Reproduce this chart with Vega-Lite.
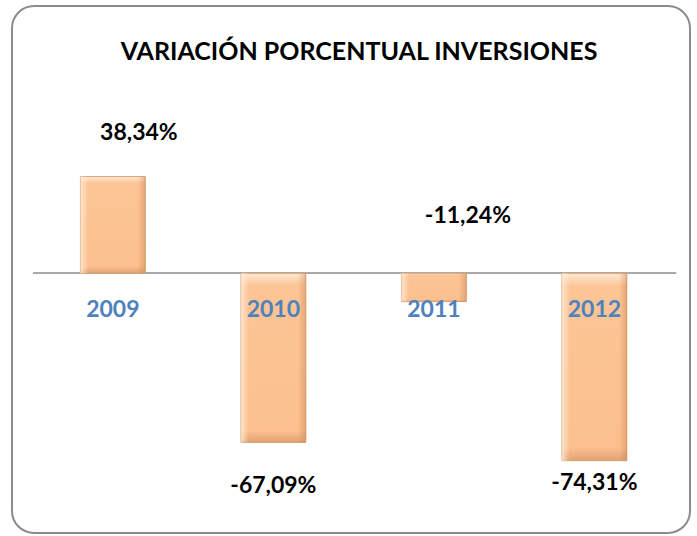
{
  "$schema": "https://vega.github.io/schema/vega-lite/v6.json",
  "autosize": "none",
  "width": 678,
  "height": 527,
  "padding": {"left": 12, "top": 6, "right": 7, "bottom": 3},
  "background": "white",
  "title": {
    "text": "VARIACIÓN PORCENTUAL INVERSIONES",
    "font": "Lato",
    "fontSize": 25,
    "fontWeight": "bold",
    "color": "#000000",
    "anchor": "middle",
    "orient": "top",
    "offset": -59,
    "dx": 8
  },
  "config": {
    "view": {"stroke": "#8C8C8C", "strokeWidth": 2, "cornerRadius": 22}
  },
  "data": {
    "values": [
      {"year": "2009", "value": 38.34, "label": "38,34%"},
      {"year": "2010", "value": -67.09, "label": "-67,09%"},
      {"year": "2011", "value": -11.24, "label": "-11,24%"},
      {"year": "2012", "value": -74.31, "label": "-74,31%"}
    ]
  },
  "resolve": {"scale": {"x": "independent"}},
  "layer": [
    {
      "mark": {"type": "rule", "color": "#A6A6A6", "strokeWidth": 1.5},
      "encoding": {
        "x": {"datum": 0, "type": "quantitative", "scale": {"domain": [-0.0328, 1.0216], "nice": false, "zero": false}, "axis": null},
        "x2": {"datum": 1},
        "y": {"datum": 0, "type": "quantitative", "scale": {"domain": [-103, 106], "nice": false}, "axis": null}
      }
    },
    {
      "layer": [
        {
          "mark": {
            "type": "bar",
            "stroke": "#D9A06E",
            "strokeWidth": 1,
            "fill": {
              "x1": 0, "y1": 0, "x2": 0, "y2": 1,
              "gradient": "linear",
              "stops": [
                {"offset": 0, "color": "#FFE8D3"},
                {"offset": 0.07, "color": "#FCC596"},
                {"offset": 0.93, "color": "#FBC08D"},
                {"offset": 1, "color": "#E0A272"}
              ]
            }
          },
          "encoding": {
            "x": {"field": "year", "type": "nominal", "scale": {"paddingInner": 0.596, "paddingOuter": 0.41, "align": 0.52}, "axis": null},
            "y": {"field": "value", "type": "quantitative", "scale": {"domain": [-103, 106], "nice": false}, "axis": null}
          }
        },
        {
          "mark": {
            "type": "bar",
            "strokeWidth": 0,
            "fill": {
              "x1": 0, "y1": 0, "x2": 1, "y2": 0,
              "gradient": "linear",
              "stops": [
                {"offset": 0, "color": "rgba(255,240,225,0.75)"},
                {"offset": 0.12, "color": "rgba(255,240,225,0)"},
                {"offset": 0.88, "color": "rgba(200,130,80,0)"},
                {"offset": 1, "color": "rgba(200,130,80,0.45)"}
              ]
            }
          },
          "encoding": {
            "x": {"field": "year", "type": "nominal"},
            "y": {"field": "value", "type": "quantitative"}
          }
        },
        {
          "mark": {"type": "text", "font": "Lato", "fontSize": 23, "fontWeight": "bold", "color": "#4F81BD", "baseline": "middle", "dy": 37},
          "encoding": {
            "x": {"field": "year", "type": "nominal"},
            "y": {"datum": 0, "type": "quantitative"},
            "text": {"field": "year"}
          }
        },
        {
          "transform": [{"filter": "datum.year == '2009'"}],
          "mark": {"type": "text", "font": "Lato", "fontSize": 23, "fontWeight": "bold", "color": "#000000", "baseline": "middle", "dy": -44, "dx": 26},
          "encoding": {
            "x": {"field": "year", "type": "nominal"},
            "y": {"field": "value", "type": "quantitative"},
            "text": {"field": "label"}
          }
        },
        {
          "transform": [{"filter": "datum.year == '2010'"}],
          "mark": {"type": "text", "font": "Lato", "fontSize": 23, "fontWeight": "bold", "color": "#000000", "baseline": "middle", "dy": 44},
          "encoding": {
            "x": {"field": "year", "type": "nominal"},
            "y": {"field": "value", "type": "quantitative"},
            "text": {"field": "label"}
          }
        },
        {
          "transform": [{"filter": "datum.year == '2011'"}],
          "mark": {"type": "text", "font": "Lato", "fontSize": 23, "fontWeight": "bold", "color": "#000000", "baseline": "middle", "dy": -57, "dx": 34},
          "encoding": {
            "x": {"field": "year", "type": "nominal"},
            "y": {"datum": 0, "type": "quantitative"},
            "text": {"field": "label"}
          }
        },
        {
          "transform": [{"filter": "datum.year == '2012'"}],
          "mark": {"type": "text", "font": "Lato", "fontSize": 23, "fontWeight": "bold", "color": "#000000", "baseline": "middle", "dy": 22},
          "encoding": {
            "x": {"field": "year", "type": "nominal"},
            "y": {"field": "value", "type": "quantitative"},
            "text": {"field": "label"}
          }
        }
      ]
    }
  ]
}
